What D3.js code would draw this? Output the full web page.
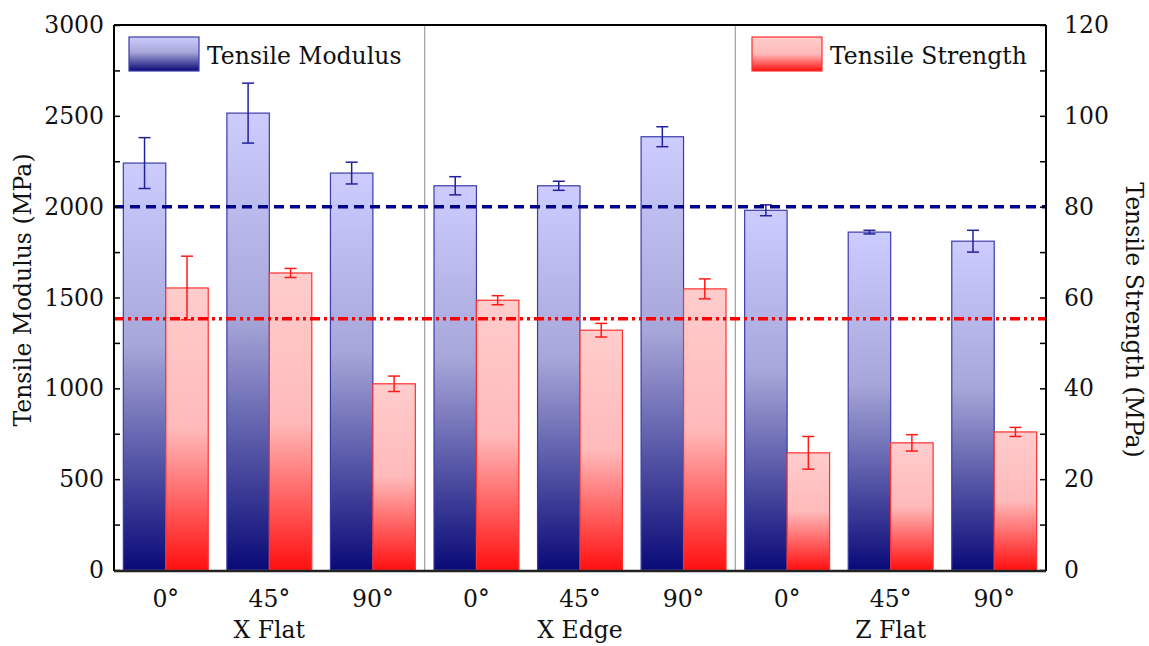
<!DOCTYPE html>
<html>
<head>
<meta charset="utf-8">
<script src="https://cdn.jsdelivr.net/npm/d3@7"></script>
<style>
  body { margin: 0; background: #fff; }
  svg text { font-family: "DejaVu Serif", serif; fill: #111; }
</style>
</head>
<body>
<svg id="chart" width="1149" height="646"></svg>
<script>
// categories
var groups = ["X Flat", "X Edge", "Z Flat"];
var angles = ["0°", "45°", "90°"];
// tensile modulus (MPa) with errors
var modulus = [2240, 2515, 2185, 2115, 2115, 2385, 1980, 1860, 1810];
var modulusErr = [140, 165, 60, 50, 25, 55, 30, 10, 60];
// tensile strength (MPa) with errors
var strength = [62.1, 65.4, 41.0, 59.4, 52.8, 61.9, 25.8, 28.0, 30.4];
var strengthErr = [7.0, 1.0, 1.7, 1.0, 1.5, 2.2, 3.6, 1.8, 1.0];
// reference lines
var modulusRef = 2000;
var strengthRef = 55.3;
var leftTicks = [0, 500, 1000, 1500, 2000, 2500, 3000];
var rightTicks = [0, 20, 40, 60, 80, 100, 120];

var svg = d3.select("#chart");
var pLeft = 114, pRight = 1046, pTop = 25, pBottom = 570;
var fs = 23.5;

var cats = [];
groups.forEach(function(g) { angles.forEach(function(a) { cats.push(g + "|" + a); }); });

var x = d3.scaleBand().domain(cats).range([pLeft, pRight]).paddingInner(0.18).paddingOuter(0.09);
var yL = d3.scaleLinear().domain([0, 3000]).range([pBottom, pTop]);
var yR = d3.scaleLinear().domain([0, 120]).range([pBottom, pTop]);

var defs = svg.append("defs");
var gb = defs.append("linearGradient").attr("id", "gBlue").attr("x1", 0).attr("y1", 0).attr("x2", 0).attr("y2", 1);
gb.append("stop").attr("offset", "0%").attr("stop-color", "#ccccff");
gb.append("stop").attr("offset", "45%").attr("stop-color", "#a6a6d8");
gb.append("stop").attr("offset", "100%").attr("stop-color", "#0a0a78");
var gr = defs.append("linearGradient").attr("id", "gRed").attr("x1", 0).attr("y1", 0).attr("x2", 0).attr("y2", 1);
gr.append("stop").attr("offset", "0%").attr("stop-color", "#ffcccc");
gr.append("stop").attr("offset", "50%").attr("stop-color", "#ffbaba");
gr.append("stop").attr("offset", "100%").attr("stop-color", "#ff1010");

// group separators
[3, 6].forEach(function(i) {
  var sx = (x(cats[i - 1]) + x.bandwidth() + x(cats[i])) / 2;
  svg.append("line").attr("x1", sx).attr("x2", sx).attr("y1", pTop).attr("y2", pBottom)
    .attr("stroke", "#a0a0a0").attr("stroke-width", 1.2);
});

var bw = x.bandwidth() / 2;

// modulus bars
svg.selectAll(".mbar").data(modulus).enter().append("rect")
  .attr("x", function(d, i) { return x(cats[i]); })
  .attr("y", function(d) { return yL(d); })
  .attr("width", bw)
  .attr("height", function(d) { return pBottom - yL(d); })
  .attr("fill", "url(#gBlue)")
  .attr("stroke", "#3c3ca8").attr("stroke-width", 1.2);

// strength bars
svg.selectAll(".sbar").data(strength).enter().append("rect")
  .attr("x", function(d, i) { return x(cats[i]) + bw; })
  .attr("y", function(d) { return yR(d); })
  .attr("width", bw)
  .attr("height", function(d) { return pBottom - yR(d); })
  .attr("fill", "url(#gRed)")
  .attr("stroke", "#ff3030").attr("stroke-width", 1.2);

function errBars(vals, errs, scale, offset, color) {
  vals.forEach(function(v, i) {
    var cx = x(cats[i]) + offset + bw / 2;
    var y1 = scale(v + errs[i]), y2 = scale(v - errs[i]);
    var g = svg.append("g").attr("stroke", color).attr("stroke-width", 1.5);
    g.append("line").attr("x1", cx).attr("x2", cx).attr("y1", y1).attr("y2", y2);
    g.append("line").attr("x1", cx - 6).attr("x2", cx + 6).attr("y1", y1).attr("y2", y1);
    g.append("line").attr("x1", cx - 6).attr("x2", cx + 6).attr("y1", y2).attr("y2", y2);
  });
}
errBars(modulus, modulusErr, yL, 0, "#22229a");
errBars(strength, strengthErr, yR, bw, "#ff1a1a");

// reference lines
svg.append("line").attr("x1", pLeft).attr("x2", pRight).attr("y1", yL(modulusRef)).attr("y2", yL(modulusRef))
  .attr("stroke", "#000088").attr("stroke-width", 3.5).attr("stroke-dasharray", "10,6");
svg.append("line").attr("x1", pLeft).attr("x2", pRight).attr("y1", yR(strengthRef)).attr("y2", yR(strengthRef))
  .attr("stroke", "#ff0000").attr("stroke-width", 3.5).attr("stroke-dasharray", "10,4,3,4,3,4");

// axes (inward ticks, major + minor)
var minorL = d3.range(0, 3001, 250);
var minorR = d3.range(0, 121, 10);
var axL = svg.append("g").attr("transform", "translate(" + pLeft + ",0)")
  .call(d3.axisRight(yL).tickValues(minorL).tickSize(6).tickFormat(""));
axL.select(".domain").remove();
axL.selectAll("line").attr("stroke", "#000").attr("stroke-width", 1.5);
var axR = svg.append("g").attr("transform", "translate(" + pRight + ",0)")
  .call(d3.axisLeft(yR).tickValues(minorR).tickSize(6).tickFormat(""));
axR.select(".domain").remove();
axR.selectAll("line").attr("stroke", "#000").attr("stroke-width", 1.5);

svg.selectAll(".ltick").data(leftTicks).enter().append("text")
  .attr("x", pLeft - 10).attr("y", function(d) { return yL(d) + 8; })
  .attr("text-anchor", "end").attr("font-size", fs).text(function(d) { return d; });
svg.selectAll(".rtick").data(rightTicks).enter().append("text")
  .attr("x", pRight + 18).attr("y", function(d) { return yR(d) + 8; })
  .attr("text-anchor", "start").attr("font-size", fs).text(function(d) { return d; });

// frame
svg.append("line").attr("x1", pLeft).attr("x2", pRight).attr("y1", pTop).attr("y2", pTop).attr("stroke", "#000").attr("stroke-width", 2);
svg.append("line").attr("x1", pLeft).attr("x2", pLeft).attr("y1", pTop).attr("y2", pBottom + 1).attr("stroke", "#000").attr("stroke-width", 2);
svg.append("line").attr("x1", pRight).attr("x2", pRight).attr("y1", pTop).attr("y2", pBottom + 1).attr("stroke", "#000").attr("stroke-width", 2);
svg.append("line").attr("x1", pLeft).attr("x2", pRight).attr("y1", pBottom + 1).attr("y2", pBottom + 1).attr("stroke", "#222").attr("stroke-width", 2.5);

// category labels
svg.selectAll(".clab").data(cats).enter().append("text")
  .attr("x", function(d) { return x(d) + x.bandwidth() / 2; })
  .attr("y", 607).attr("text-anchor", "middle").attr("font-size", fs)
  .text(function(d) { return d.split("|")[1]; });
groups.forEach(function(g, gi) {
  var c = cats[gi * 3 + 1];
  svg.append("text").attr("x", x(c) + x.bandwidth() / 2).attr("y", 638)
    .attr("text-anchor", "middle").attr("font-size", fs).text(g);
});

// axis titles
svg.append("text").attr("transform", "translate(31,290) rotate(-90)")
  .attr("text-anchor", "middle").attr("font-size", fs).text("Tensile Modulus (MPa)");
svg.append("text").attr("transform", "translate(1126,320) rotate(90)")
  .attr("text-anchor", "middle").attr("font-size", fs).text("Tensile Strength (MPa)");

// legends
svg.append("rect").attr("x", 129).attr("y", 37).attr("width", 70).attr("height", 34)
  .attr("fill", "url(#gBlue)").attr("stroke", "#3c3ca8").attr("stroke-width", 1.2);
svg.append("text").attr("x", 207).attr("y", 64).attr("font-size", fs).text("Tensile Modulus");
svg.append("rect").attr("x", 752).attr("y", 37).attr("width", 70).attr("height", 34)
  .attr("fill", "url(#gRed)").attr("stroke", "#ff3030").attr("stroke-width", 1.2);
svg.append("text").attr("x", 830).attr("y", 64).attr("font-size", fs).text("Tensile Strength");
</script>
</body>
</html>
